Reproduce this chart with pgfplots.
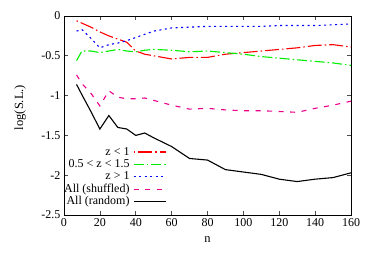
\documentclass[border=0pt]{standalone}
\usepackage{pgfplots}
\pgfplotsset{compat=1.18}
\usepackage{fontspec}
\setmainfont{Liberation Serif}
\begin{document}
\begin{tikzpicture}
\useasboundingbox (-64pt,-41pt) rectangle (310pt,215pt);
\begin{axis}[
  scale only axis, width=287pt, height=199pt,
  xmin=0, xmax=160, ymin=-2.5, ymax=0,
  xtick={0,20,...,160}, ytick={-2.5,-2,-1.5,-1,-0.5,0},
  yticklabels={-2.5,-2,-1.5,-1,-0.5,0},
  /pgf/number format/assume math mode=true,
  ticklabel style={font=\fontsize{12}{14}\selectfont},
  xlabel={n}, ylabel={log(S.L.)},
  label style={font=\fontsize{12.5}{14}\selectfont},
  xlabel style={at={(axis description cs:0.5,0)}, anchor=center, yshift=-25pt},
  ylabel style={at={(axis description cs:-0.153,0.54)}, anchor=center},
  axis line style={line width=0.8pt},
  major tick length=4pt,
  tick style={line width=0.6pt, black!70},
  legend plot pos=right,
  legend cell align=right,
  legend style={at={(0.37,0.025)}, anchor=south east, draw=none, fill=none,
    font=\fontsize{12}{14}\selectfont,
    nodes={inner sep=0.6pt, text height=8.6pt, text depth=2.6pt},
    row sep=0pt, column sep=3pt},
  legend image code/.code={\draw[#1] (0cm,0cm) -- (1.15cm,0cm);},
  every axis plot/.append style={line width=1.1pt},
]
\addplot[color=red, dash pattern=on 1.5pt off 3pt on 14pt off 3pt] coordinates {
(7,-0.06) (10,-0.09) (15,-0.14) (20,-0.20) (25,-0.25) (30,-0.29) (35,-0.33) (40,-0.44) (45,-0.48) (50,-0.50) (60,-0.54) (70,-0.52) (80,-0.52) (90,-0.48) (100,-0.46) (110,-0.44) (120,-0.42) (130,-0.40) (140,-0.37) (150,-0.36) (160,-0.39)};
\addlegendentry{z < 1}
\addplot[color={rgb,255:red,0;green,240;blue,0}, dash pattern=on 10pt off 3pt on 1.5pt off 3pt] coordinates {
(7,-0.56) (10,-0.44) (15,-0.44) (20,-0.46) (25,-0.44) (30,-0.42) (35,-0.44) (40,-0.45) (45,-0.43) (50,-0.42) (60,-0.43) (70,-0.45) (80,-0.44) (90,-0.46) (100,-0.48) (110,-0.51) (120,-0.53) (130,-0.55) (140,-0.57) (150,-0.59) (160,-0.62)};
\addlegendentry{0.5 < z < 1.5}
\addplot[color=blue, dash pattern=on 2pt off 3.5pt] coordinates {
(7,-0.19) (10,-0.17) (15,-0.28) (20,-0.40) (25,-0.36) (30,-0.34) (35,-0.31) (40,-0.27) (45,-0.23) (50,-0.19) (60,-0.15) (70,-0.14) (80,-0.13) (90,-0.13) (100,-0.13) (110,-0.13) (120,-0.12) (130,-0.12) (140,-0.12) (150,-0.11) (160,-0.10)};
\addlegendentry{z > 1}
\addplot[color=magenta, dash pattern=on 5pt off 6.5pt] coordinates {
(7,-0.74) (10,-0.85) (15,-0.97) (20,-1.13) (25,-0.94) (30,-1.02) (35,-1.04) (40,-1.04) (45,-1.03) (50,-1.06) (60,-1.12) (70,-1.17) (80,-1.16) (90,-1.18) (100,-1.19) (110,-1.19) (120,-1.20) (130,-1.21) (140,-1.16) (150,-1.12) (160,-1.07)};
\addlegendentry{All (shuffled)}
\addplot[color=black] coordinates {
(7,-0.86) (10,-0.99) (15,-1.20) (20,-1.42) (25,-1.25) (30,-1.40) (35,-1.42) (40,-1.50) (45,-1.47) (50,-1.53) (60,-1.64) (70,-1.79) (80,-1.81) (90,-1.93) (100,-1.96) (110,-1.99) (120,-2.05) (130,-2.08) (140,-2.05) (150,-2.03) (160,-1.97)};
\addlegendentry{All (random)}
\end{axis}
\end{tikzpicture}
\end{document}
